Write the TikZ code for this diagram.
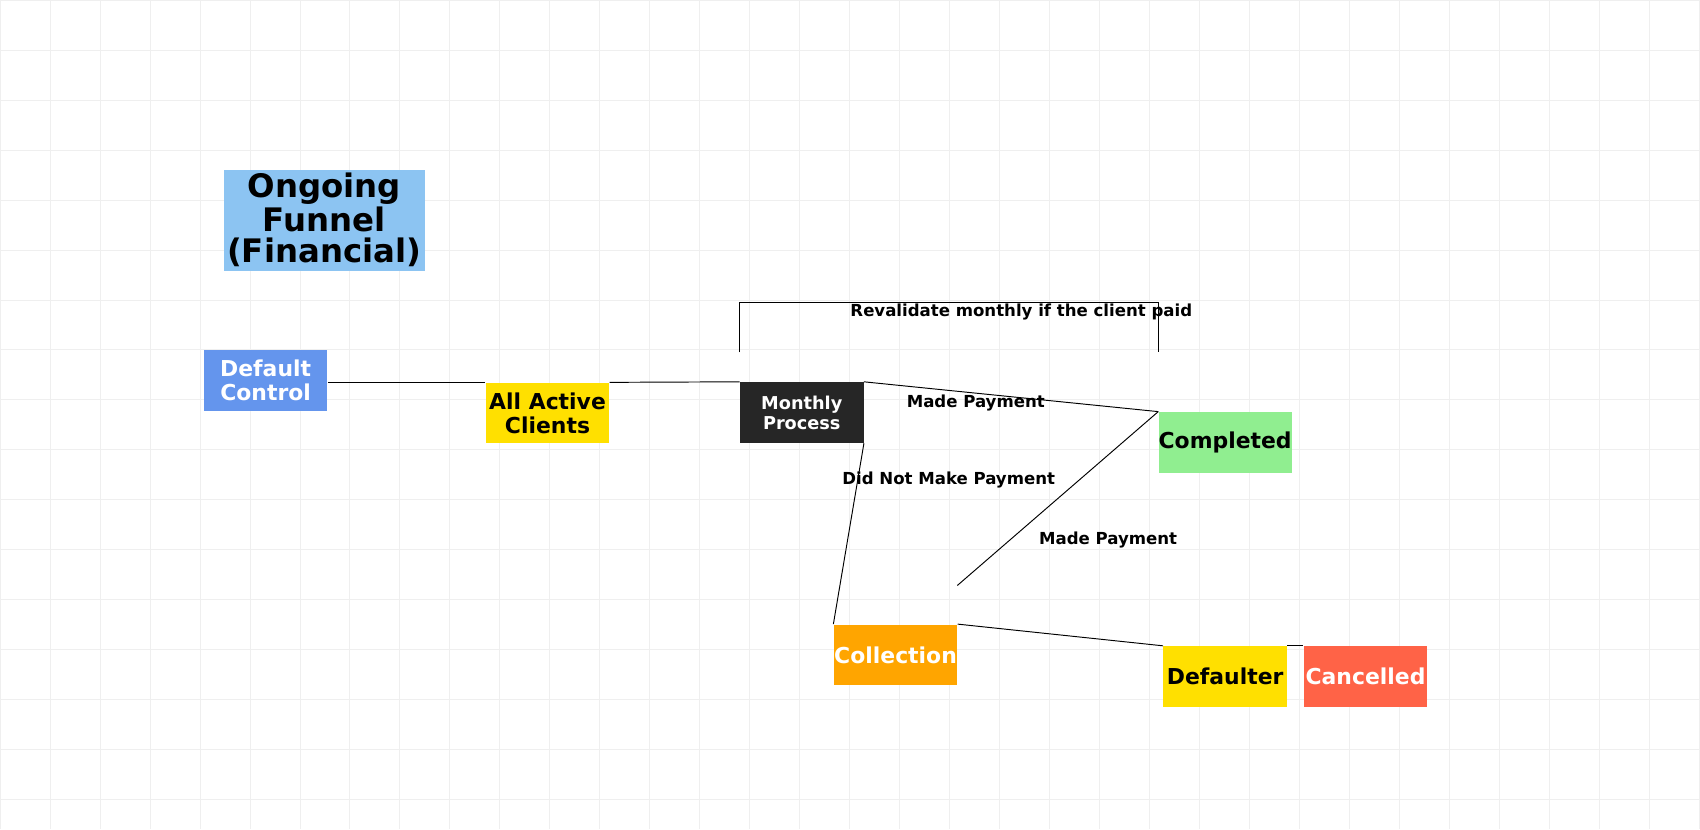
\documentclass[tikz,border=0pt]{standalone}
\usepackage{fontspec}
\setmainfont{DejaVu Sans}
\usepackage{tikz}

\definecolor{titleblue}{HTML}{8CC4F2}
\definecolor{ctrlblue}{HTML}{6495ED}
\definecolor{activeyellow}{HTML}{FFE000}
\definecolor{procdark}{HTML}{262626}
\definecolor{donegreen}{HTML}{90EE90}
\definecolor{collorange}{HTML}{FFA500}
\definecolor{canceltomato}{HTML}{FF6347}
\definecolor{gridgray}{HTML}{EFEFEF}

\tikzset{
  stage/.style={minimum width=2.28cm, minimum height=1.12cm, inner sep=0pt, align=center, font=\bfseries\fontsize{11.5}{12.5}\selectfont},
  flow/.style={draw=black, line width=0.5pt},
  note/.style={font=\bfseries\fontsize{8.7}{10}\selectfont}
}

\begin{document}
\begin{tikzpicture}[x=0.02cm, y=-0.02cm]
\useasboundingbox (0,0) rectangle (1568,765);
\draw[gridgray, line width=0.5pt] (0,0) grid[step=0.922cm] (1568,-765);
\foreach \gx in {0,46.1,...,1568} \draw[gridgray] (\gx,0) -- (\gx,765);
\foreach \gy in {0,46.1,...,765} \draw[gridgray] (0,\gy) -- (1568,\gy);

% title
\fill[titleblue] (207,157) rectangle (392,250);
\node[align=center, font=\bfseries\fontsize{17}{16.5}\selectfont] (title) at (299,203) {Ongoing\\Funnel\\(Financial)};

% stages
\node[stage, fill=ctrlblue, text=white] (ctrl) at (245,351) {Default\\Control};
\node[stage, fill=activeyellow] (active) at (505,381) {All Active\\Clients};
\node[stage, fill=procdark, text=white, font=\bfseries\fontsize{9.3}{10.5}\selectfont] (monthly) at (739.5,380.5) {Monthly\\Process};
\node[stage, fill=donegreen] (done) at (1130,408) {Completed};
\node[stage, fill=collorange, text=white] (coll) at (826,604) {Collection};
\node[stage, fill=activeyellow] (defaulter) at (1130,624) {Defaulter};
\node[stage, fill=canceltomato, text=white] (cancel) at (1259.5,624) {Cancelled};

% connectors
\draw[flow] (ctrl.east |- active.north) -- (active.north west);
\draw[flow] (active.north east) -- (monthly.north west);
\draw[flow] (monthly.north east) -- (done.north west);
\draw[flow] (monthly.north west |- 0,325) -- ++(0,-46) -| (done.north west |- 0,325);
\draw[flow] (monthly.south east) -- (coll.north west);
\draw[flow] (coll.north east) -- (defaulter.north west);
\coordinate (paid) at (883,540);
\draw[flow] (paid) -- (done.north west);
\draw[flow] (defaulter.north east) -- (cancel.north west);

% labels
\node[note] (revalidate) at (942,288) {Revalidate monthly if the client paid};
\node[note] (made1) at (900,372) {Made Payment};
\node[note] (notmade) at (875,443) {Did Not Make Payment};
\node[note] (made2) at (1022,498) {Made Payment};
\end{tikzpicture}
\end{document}
